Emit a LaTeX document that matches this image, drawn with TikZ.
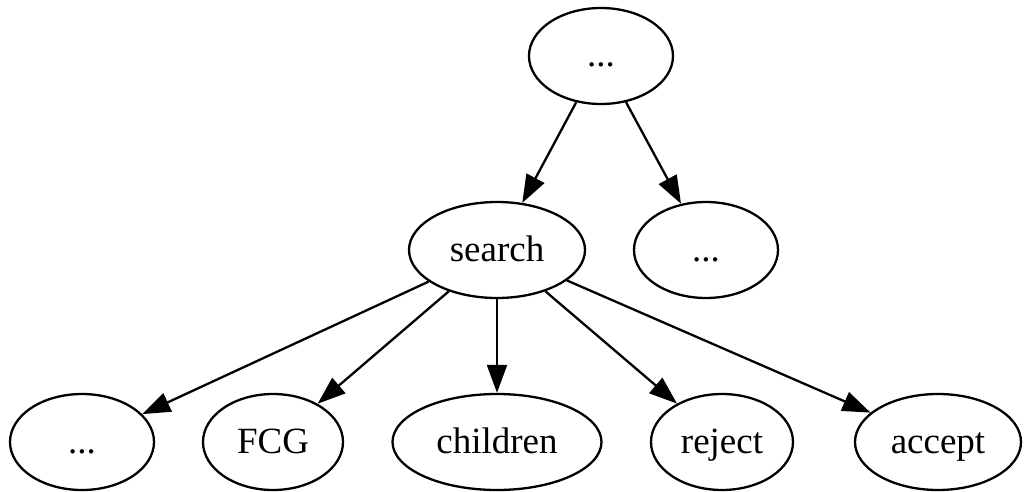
\documentclass[tikz,border=0pt]{standalone}
\usepackage{fontspec}
\setmainfont{Liberation Serif}
\usetikzlibrary{shapes.geometric,arrows.meta}
\begin{document}
\begin{tikzpicture}[x=1pt,y=1pt,
  every node/.style={font=\fontsize{37}{44}\selectfont},
  gnode/.style={draw, ellipse, line width=2.3pt, inner sep=0pt,
    text height=22pt, text depth=0pt,
    minimum width=#1, minimum height=96pt},
  gnode/.default=144pt,
  edge/.style={line width=2.3pt, -{Triangle[length=28pt,width=20pt]}}]
  \useasboundingbox (0,0) rectangle (1025,491);
  % upper levels
  \node[gnode] (top) at (601,435) {...};
  \node[gnode=176pt] (search) at (497,241) {search};
  \node[gnode] (side) at (706,241) {...};
  % leaves
  \node[gnode] (more) at (82,49) {...};
  \node[gnode=140pt] (fcg) at (273,49) {FCG};
  \node[gnode=209pt] (children) at (497,49) {children};
  \node[gnode=142pt] (reject) at (722,49) {reject};
  \node[gnode=166pt] (accept) at (938,49) {accept};
  % edges
  \draw[edge] (top) -- (search);
  \draw[edge] (top) -- (side);
  \draw[edge] (search) -- (more);
  \draw[edge] (search) -- (fcg);
  \draw[edge] (search) -- (children);
  \draw[edge] (search) -- (reject);
  \draw[edge] (search) -- (accept);
\end{tikzpicture}
\end{document}
